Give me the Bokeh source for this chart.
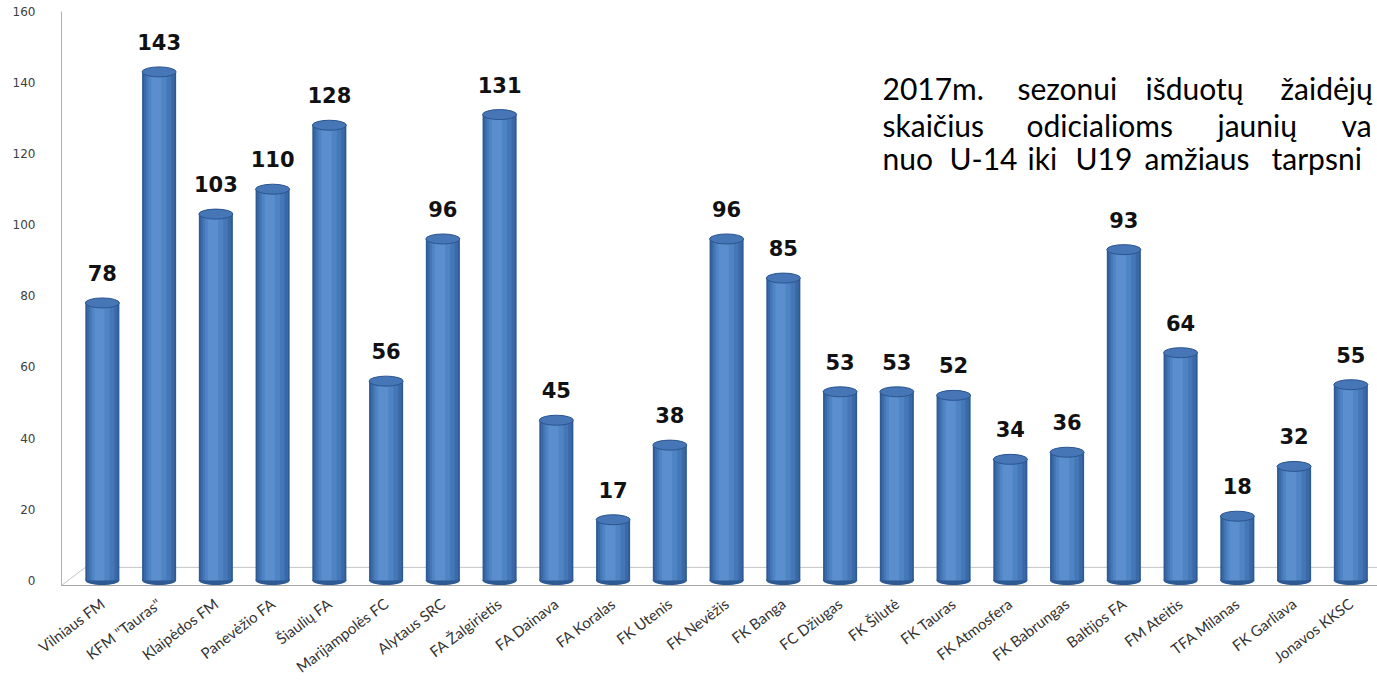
from bokeh.plotting import figure
from bokeh.models import Range1d, FixedTicker, Label, ColumnDataSource
from bokeh.transform import dodge
from bokeh.core.properties import value
from bokeh.embed import file_html
from bokeh.resources import INLINE

clubs = ["Vilniaus FM", 'KFM "Tauras"', "Klaipėdos FM", "Panevėžio FA", "Šiaulių FA",
         "Marijampolės FC", "Alytaus SRC", "FA Žalgirietis", "FA Dainava", "FA Koralas",
         "FK Utenis", "FK Nevėžis", "FK Banga", "FC Džiugas", "FK Šilutė", "FK Tauras",
         "FK Atmosfera", "FK Babrungas", "Baltijos FA", "FM Ateitis", "TFA Milanas",
         "FK Garliava", "Jonavos KKSC"]
players = [78, 143, 103, 110, 128, 56, 96, 131, 45, 17, 38, 96, 85, 53, 53, 52, 34, 36,
           93, 64, 18, 32, 55]
y_ticks = [0, 20, 40, 60, 80, 100, 120, 140, 160]
title_lines = [
    ["2017m.", "sezonui", "išduotų", "žaidėjų"],
    ["skaičius", "odicialioms", "jaunių", "va"],
    ["nuo", "U-14", "iki", "U19", "amžiaus", "tarpsni"],
]

idx = list(range(len(clubs)))
src = ColumnDataSource(dict(x=idx, club=clubs, players=players,
                            label=[str(v) for v in players]))

X0, X1 = -0.72, 22.47
Y0, Y1 = -1.5, 160

p = figure(width=1377, height=687, output_backend="svg", toolbar_location=None,
           x_range=Range1d(X0, X1), y_range=Range1d(Y0, Y1),
           min_border_left=61, min_border_right=0, min_border_top=11,
           min_border_bottom=102)
p.outline_line_color = None
p.xgrid.grid_line_color = None
p.ygrid.grid_line_color = None
p.background_fill_color = "white"

# floor (3D effect)
p.line(x=[X0, X0 + 0.42, X1], y=[Y0, 3.6, 3.6], line_color="#C4C4C4", line_width=1)

# bottom rounding of cylinders
p.ellipse(x="x", y=0, width=0.6, height=10, height_units="screen",
          fill_color="#2E5A93", line_color=None, source=src)

layers = [(0.60, "#2E5A93", 0.0), (0.54, "#3A69A8", 0.0), (0.44, "#4577B7", -0.01),
          (0.32, "#4F84C4", -0.03), (0.18, "#5A8ECD", -0.05)]
for w, c, off in layers:
    p.vbar(x=dodge("x", off), top="players", bottom=0, width=w,
           fill_color=c, line_color=None, source=src)

# top caps
p.ellipse(x="x", y="players", width=0.6, height=10, height_units="screen",
          fill_color="#4676B5", line_color="#2B5590", line_width=1, source=src)

# value labels
p.text(x="x", y="players", text="label", text_align="center", text_baseline="middle",
       y_offset=-30, text_font=value("DejaVu Sans"), text_font_style="bold",
       text_font_size="21px", text_color="#111111", source=src)

# axes
p.yaxis.ticker = FixedTicker(ticks=y_ticks)
p.yaxis.axis_line_color = "#B0B0B0"
p.yaxis.major_tick_line_color = None
p.yaxis.minor_tick_line_color = None
p.yaxis.major_label_text_font = "DejaVu Sans"
p.yaxis.major_label_text_font_size = "12px"
p.yaxis.major_label_text_color = "#404040"
p.yaxis.major_label_standoff = 20

p.xaxis.ticker = FixedTicker(ticks=idx)
p.xaxis.major_label_overrides = {i: c for i, c in zip(idx, clubs)}
p.xaxis.major_label_orientation = 0.65
p.xaxis.axis_line_color = "#A6A6A6"
p.xaxis.major_tick_line_color = None
p.xaxis.minor_tick_line_color = None
p.xaxis.major_label_text_font = "Lato"
p.xaxis.major_label_text_font_size = "15px"
p.xaxis.major_label_text_color = "#333333"
p.xaxis.major_label_standoff = 10

# title text block (justified lines, placed word by word; x,y relative to frame)
word_x = [[821, 956, 1084, 1219],
          [821, 965, 1156, 1280],
          [821, 888, 966, 1014, 1083, 1210]]
line_y = [498, 461, 428]
for words, xs, yy in zip(title_lines, word_x, line_y):
    for w, xx in zip(words, xs):
        p.add_layout(Label(x=xx, y=yy, x_units="screen", y_units="screen", text=w,
                           text_font="Lato", text_font_size="30px",
                           text_color="#000000", text_baseline="alphabetic"))

open("out.html", "w").write(file_html(p, INLINE))
